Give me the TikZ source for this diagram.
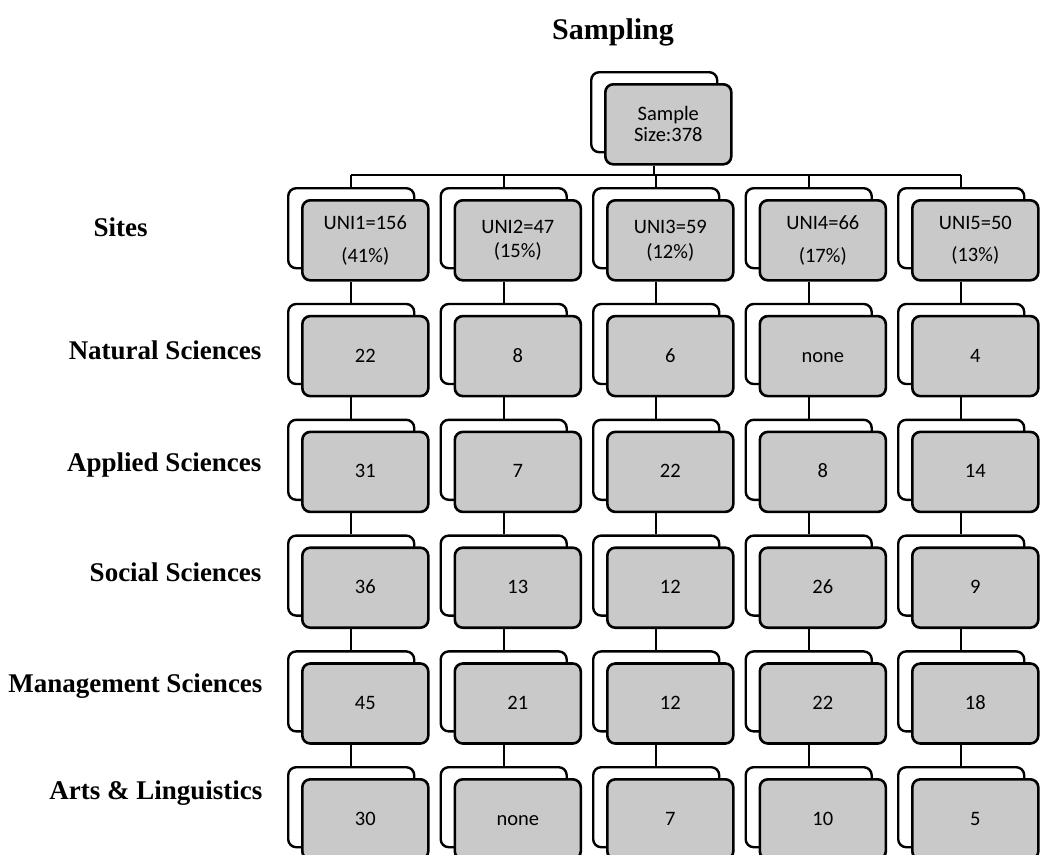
\documentclass[tikz,border=0pt]{standalone}
\usepackage{fontspec}
\setmainfont{Liberation Serif}
\newfontfamily\boxfont{Carlito}
\tikzset{
  x=1pt,y=-1pt,
  backbox/.style={draw, line width=2.4pt, rounded corners=8pt, fill=white,
    minimum width=126pt, minimum height=80pt, inner sep=0pt, anchor=north west},
  frontbox/.style={draw, line width=2.6pt, rounded corners=8pt, fill=gray!42,
    minimum width=126pt, minimum height=80pt, inner sep=0pt, anchor=north west,
    font=\boxfont\fontsize{20.5}{24}\selectfont, align=center},
  oneline/.style={text height=13pt, text depth=1pt},
  conn/.style={line width=2.2pt},
  lab/.style={anchor=base east, font=\bfseries\fontsize{27}{32}\selectfont},
  ttl/.style={anchor=base, font=\bfseries\fontsize{30}{36}\selectfont}
}
\newcommand\pairbox[5][]{%
  \node[backbox] (b#2) at (#3,#4) {};
  \node[frontbox,#1] (f#2) at (#3+14,#4+12) {#5};}
\begin{document}
\begin{tikzpicture}
\useasboundingbox (0,0) rectangle (1040,854);
\clip (0,0) rectangle (1040,854);

% title and row labels
\node[ttl] (title) at (613,39) {Sampling};
\node[lab, anchor=base west] (l1) at (90,236) {Sites};
\node[lab] (l2) at (265,359) {Natural Sciences};
\node[lab] (l3) at (265,471) {Applied Sciences};
\node[lab] (l4) at (265,581) {Social Sciences};
\node[lab] (l5) at (266,692) {Management Sciences};
\node[lab] (l6) at (266,799) {Arts \& Linguistics};

% top box
\pairbox{0}{590}{71}{Sample\\[-3pt]Size:378}

% row 1: sites
\pairbox{11}{287}{187}{UNI1=156\\[9pt](41\%)}
\pairbox{12}{439.5}{187}{UNI2=47\\[0pt](15\%)}
\pairbox{13}{592}{187}{UNI3=59\\[1pt](12\%)}
\pairbox{14}{744.5}{187}{UNI4=66\\[9pt](17\%)}
\pairbox{15}{897}{187}{UNI5=50\\[8pt](13\%)}

% row 2: natural sciences
\pairbox[oneline]{21}{287}{302.8}{22}
\pairbox[oneline]{22}{439.5}{302.8}{8}
\pairbox[oneline]{23}{592}{302.8}{6}
\pairbox[oneline]{24}{744.5}{302.8}{none}
\pairbox[oneline]{25}{897}{302.8}{4}

% row 3: applied sciences
\pairbox[oneline]{31}{287}{418.6}{31}
\pairbox[oneline]{32}{439.5}{418.6}{7}
\pairbox[oneline]{33}{592}{418.6}{22}
\pairbox[oneline]{34}{744.5}{418.6}{8}
\pairbox[oneline]{35}{897}{418.6}{14}

% row 4: social sciences
\pairbox[oneline]{41}{287}{534.4}{36}
\pairbox[oneline]{42}{439.5}{534.4}{13}
\pairbox[oneline]{43}{592}{534.4}{12}
\pairbox[oneline]{44}{744.5}{534.4}{26}
\pairbox[oneline]{45}{897}{534.4}{9}

% row 5: management sciences
\pairbox[oneline]{51}{287}{650.2}{45}
\pairbox[oneline]{52}{439.5}{650.2}{21}
\pairbox[oneline]{53}{592}{650.2}{12}
\pairbox[oneline]{54}{744.5}{650.2}{22}
\pairbox[oneline]{55}{897}{650.2}{18}

% row 6: arts & linguistics
\pairbox[oneline]{61}{287}{766}{30}
\pairbox[oneline]{62}{439.5}{766}{none}
\pairbox[oneline]{63}{592}{766}{7}
\pairbox[oneline]{64}{744.5}{766}{10}
\pairbox[oneline]{65}{897}{766}{5}

% connectors
\coordinate (hl) at (0,175);
\draw[conn] (b0.north |- f0.south) -- (b0.north |- hl);
\draw[conn] (b11.north |- hl) -- (b15.north |- hl);
\foreach \c in {1,...,5}{
  \draw[conn] (b1\c.north) -- (b1\c.north |- hl);
  \foreach \r [evaluate=\r as \p using int(\r-1)] in {2,...,6}{
    \draw[conn] (b\r\c.north) -- (b\r\c.north |- f\p\c.south);
  }
}
\end{tikzpicture}
\end{document}
